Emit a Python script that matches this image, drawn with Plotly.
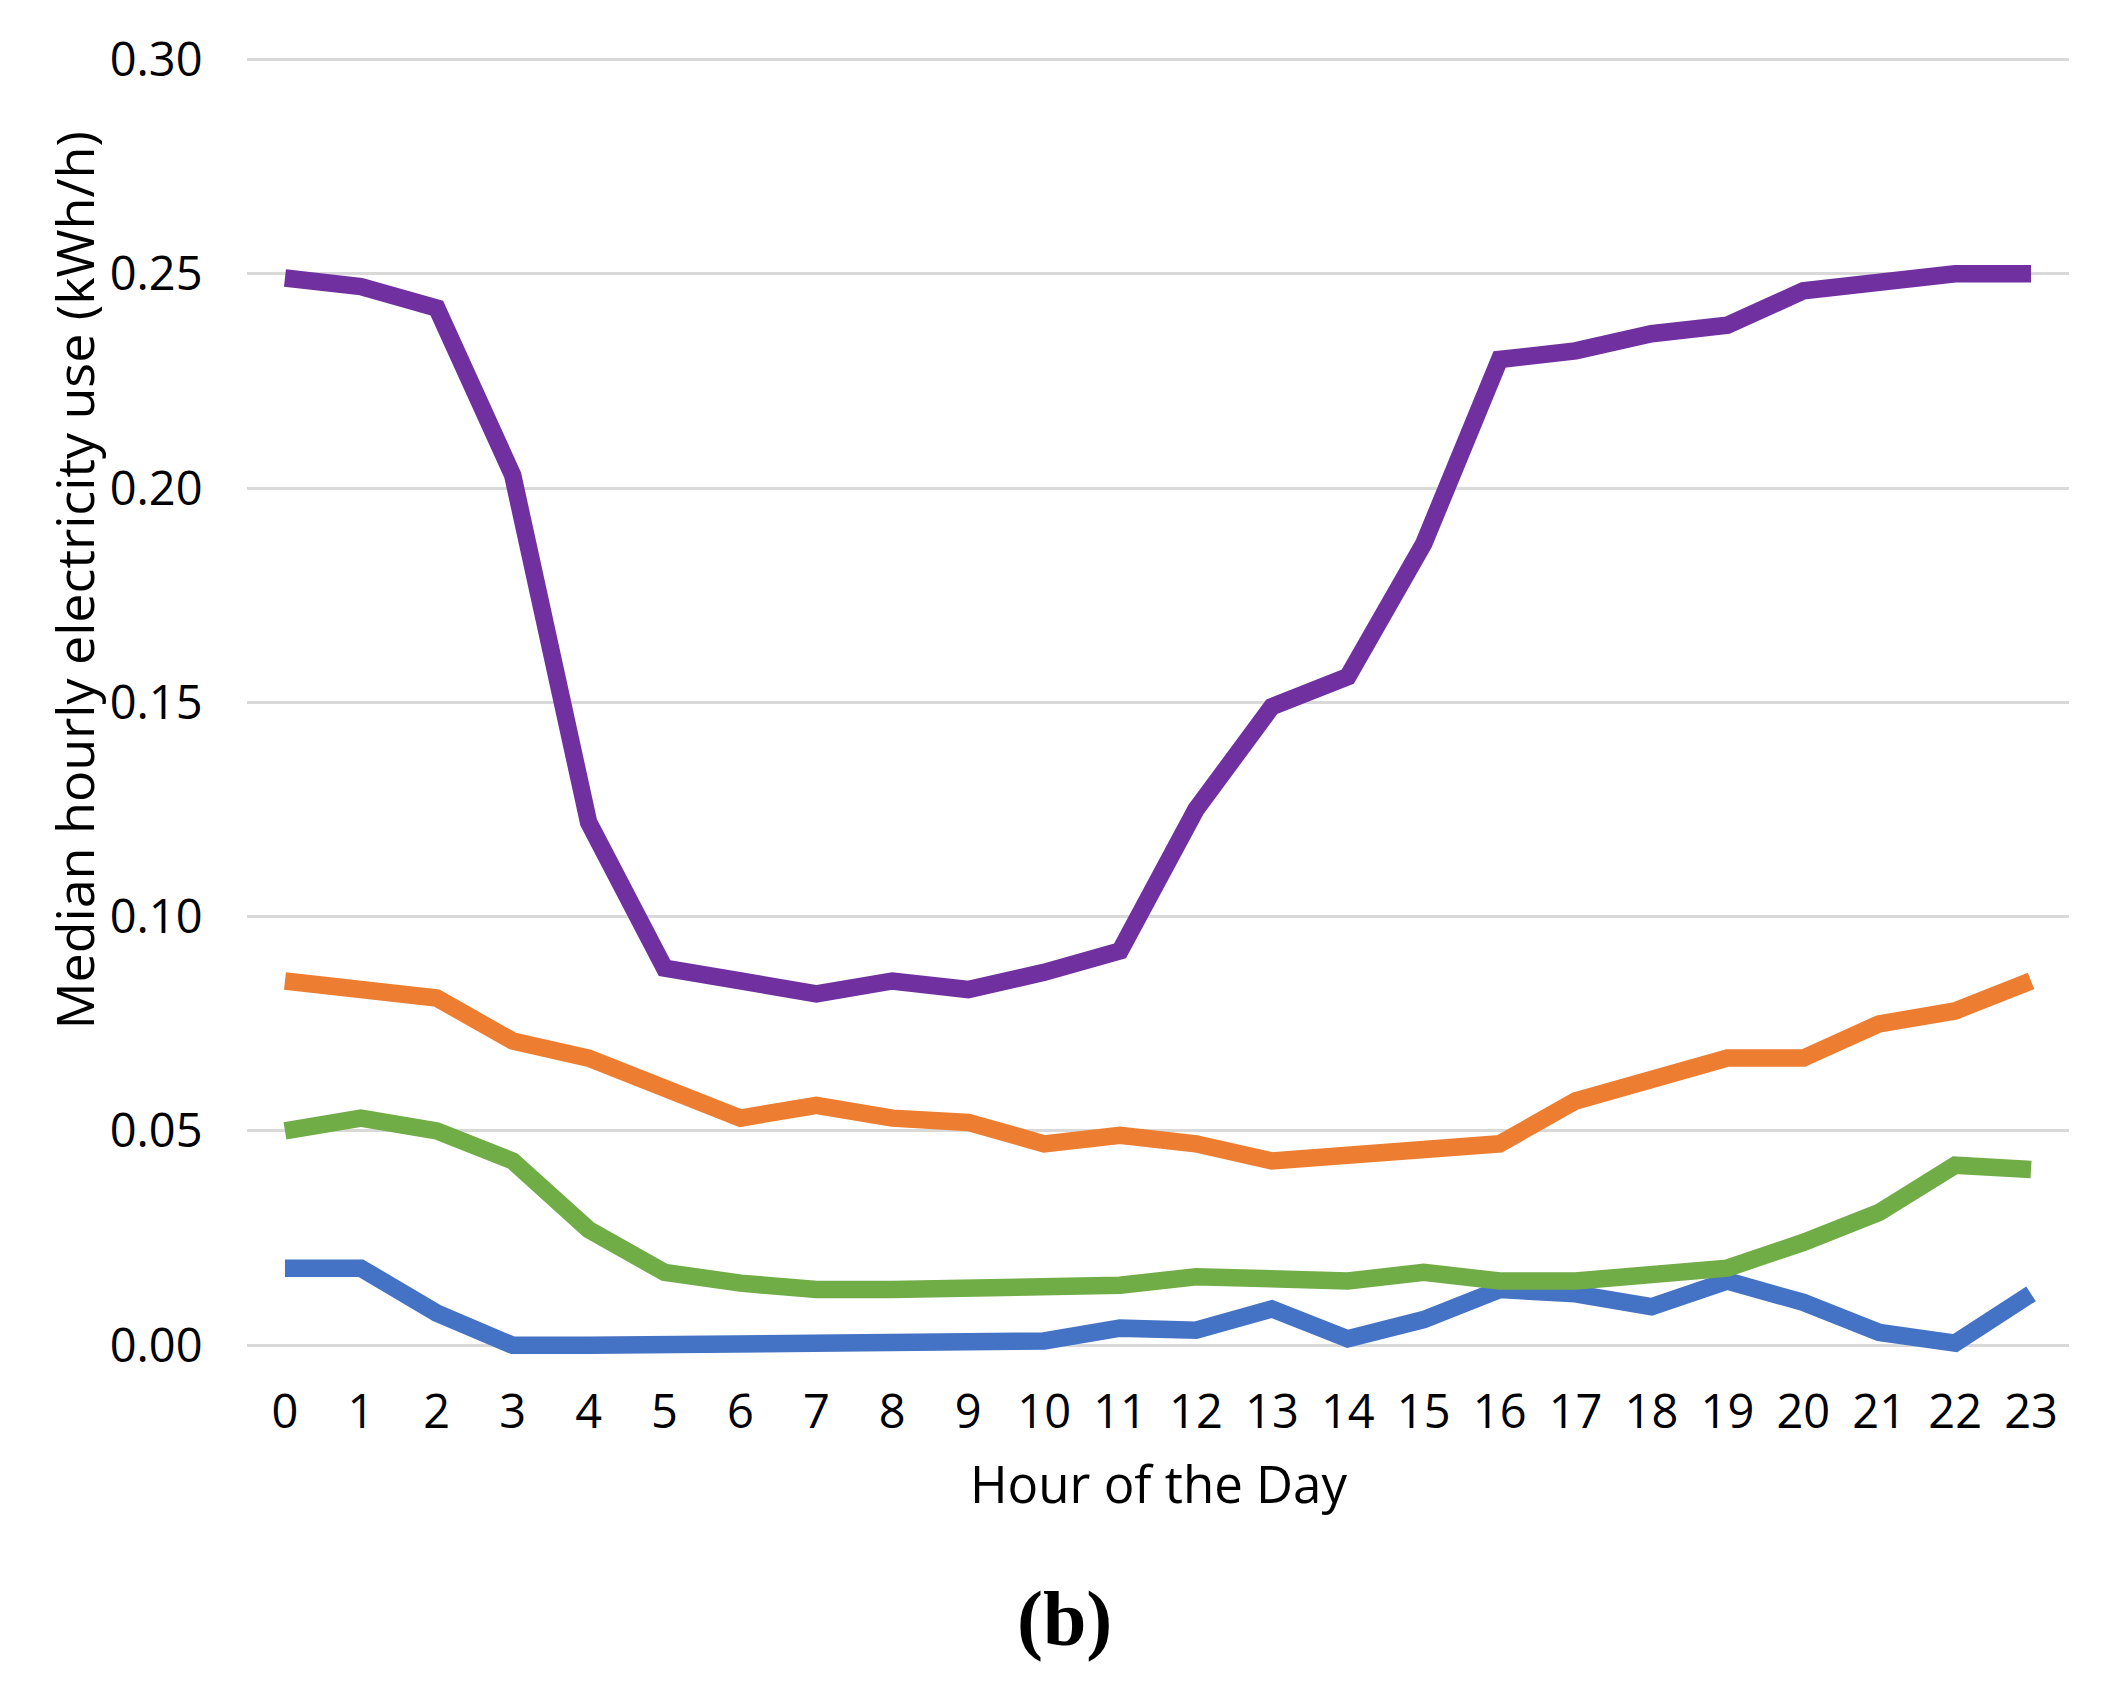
import plotly.graph_objects as go

hours = list(range(24))
hour_labels = [str(h) for h in hours]

purple_vals = [0.249, 0.247, 0.242, 0.203, 0.122, 0.088, 0.085, 0.082, 0.085, 0.083,
               0.087, 0.092, 0.125, 0.149, 0.156, 0.187, 0.230, 0.232, 0.236, 0.238,
               0.246, 0.248, 0.250, 0.250]
orange_vals = [0.085, 0.083, 0.081, 0.071, 0.067, 0.060, 0.053, 0.056, 0.053, 0.052,
               0.047, 0.049, 0.047, 0.043, 0.044, 0.045, 0.047, 0.057, 0.062, 0.067,
               0.067, 0.075, 0.078, 0.085]
green_vals = [0.050, 0.053, 0.050, 0.043, 0.027, 0.017, 0.0145, 0.013, 0.013, 0.013,
              0.014, 0.014, 0.016, 0.015, 0.015, 0.017, 0.015, 0.015, 0.016, 0.018,
              0.024, 0.031, 0.042, 0.041]
blue_vals = [0.018, 0.018, 0.0075, 0.0, 0.0, 0.0, 0.0, 0.0, 0.0, 0.0,
             0.001, 0.004, 0.0035, 0.0085, 0.0015, 0.006, 0.013, 0.012, 0.009, 0.015,
             0.010, 0.003, 0.0005, 0.012]

series = [
    ("blue", blue_vals, "#4472C4"),
    ("green", green_vals, "#70AD47"),
    ("orange", orange_vals, "#ED7D31"),
    ("purple", purple_vals, "#7030A0"),
]

y_ticks = [0.0, 0.05, 0.10, 0.15, 0.20, 0.25, 0.30]
y_tick_labels = ["0.00", "0.05", "0.10", "0.15", "0.20", "0.25", "0.30"]

fig = go.Figure()
for name, vals, color in series:
    fig.add_trace(go.Scatter(
        x=hour_labels, y=vals, mode="lines", name=name,
        line=dict(color=color, width=17.5), hoverinfo="skip",
    ))

font_sans = "Open Sans, Noto Sans, sans-serif"

fig.update_layout(
    width=2105, height=1689,
    margin=dict(l=239, r=44, t=45, b=326, pad=0),
    paper_bgcolor="white", plot_bgcolor="white",
    showlegend=False,
    font=dict(family=font_sans, size=47, color="black"),
    xaxis=dict(
        type="category", categoryorder="array", categoryarray=hour_labels,
        range=[-0.5, 23.5], showgrid=False, zeroline=False, showline=False,
        ticks="outside", ticklen=0, tickcolor="rgba(0,0,0,0)",
        tickfont=dict(family=font_sans, size=47, color="black"),
    ),
    yaxis=dict(
        range=[-0.006, 0.3015], tickvals=y_ticks, ticktext=y_tick_labels,
        showgrid=True, gridcolor="#D9D9D9", gridwidth=3,
        zeroline=False, showline=False,
        ticks="outside", ticklen=34, tickcolor="rgba(0,0,0,0)",
        tickfont=dict(family=font_sans, size=47, color="black"),
    ),
    annotations=[
        dict(text="Hour of the Day", xref="paper", yref="paper",
             x=0.5, y=-0.0852, xanchor="center", yanchor="middle", showarrow=False,
             font=dict(family=font_sans, size=51, color="black")),
        dict(text="Median hourly electricity use (kWh/h)", xref="paper", yref="paper",
             x=-0.0955, y=0.600, xanchor="center", yanchor="middle", showarrow=False,
             textangle=-90, font=dict(family=font_sans, size=52, color="black")),
        dict(text="<b>(b)</b>", xref="paper", yref="paper",
             x=0.4488, y=-0.1876, xanchor="center", yanchor="middle", showarrow=False,
             font=dict(family="Liberation Serif, DejaVu Serif, serif", size=78, color="black")),
    ],
)

fig.write_html("out.html")
